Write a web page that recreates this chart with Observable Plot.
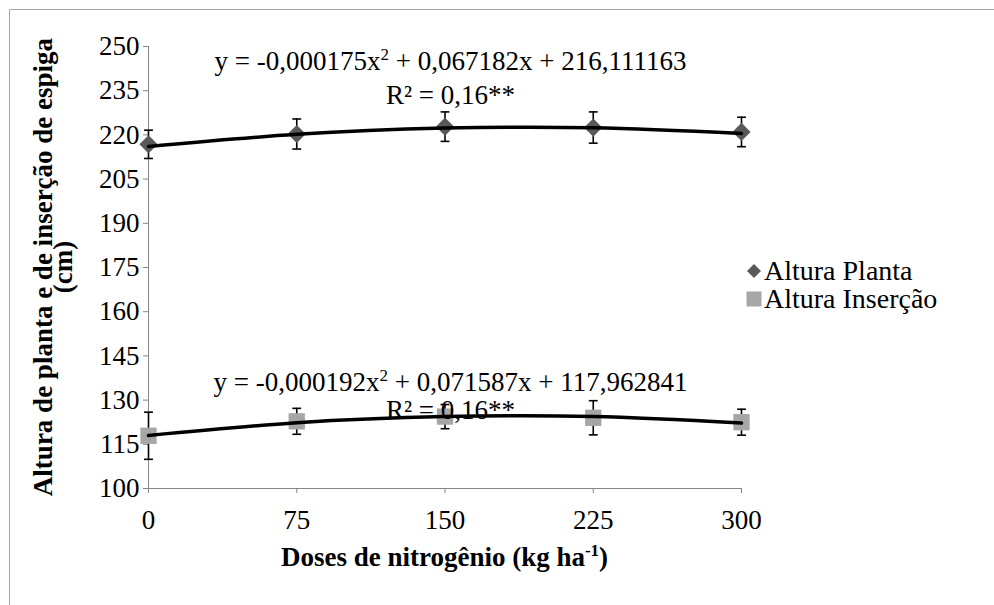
<!DOCTYPE html>
<html><head><meta charset="utf-8">
<script src="https://cdn.jsdelivr.net/npm/d3@7"></script>
<script src="https://cdn.jsdelivr.net/npm/@observablehq/plot@0.6"></script>
<style>
body{margin:0;background:#fff}
#chart{position:relative;width:994px;height:605px}
</style>
</head><body><div id="chart"></div>
<script>
// ---- data ----
const doses = [0, 75, 150, 225, 300];
const seriesNames = ["Altura Planta", "Altura Inserção"];
const plantaMean = [216.8, 220.3, 222.8, 222.5, 221.0];
const plantaErr = [4.8, 5.1, 5.0, 5.3, 5.0];
const insercaoMean = [117.9, 122.8, 124.4, 124.0, 122.5];
const insercaoErr = [8.0, 4.4, 4.1, 5.8, 4.4];
const plantaFit = [216.1, 220.2, 222.3, 222.4, 220.5];
const insercaoFit = [118.0, 122.3, 124.4, 124.4, 122.2];
const yTicks = [100, 115, 130, 145, 160, 175, 190, 205, 220, 235, 250];
const xTicks = [0, 75, 150, 225, 300];
const eqPlanta = ["y = -0,000175x", "2", " + 0,067182x + 216,111163"];
const r2Planta = "R² = 0,16**";
const eqInsercao = ["y = -0,000192x", "2", " + 0,071587x + 117,962841"];
const r2Insercao = "R² = 0,16**";
const xTitle = ["Doses de nitrogênio (kg ha", "-1", ")"];
const yTitle = ["Altura de planta e de inserção de espiga", "(cm)"];

const planta = doses.map((d, i) => ({dose: d, mean: plantaMean[i], err: plantaErr[i], fit: plantaFit[i]}));
const insercao = doses.map((d, i) => ({dose: d, mean: insercaoMean[i], err: insercaoErr[i], fit: insercaoFit[i]}));
const all = planta.concat(insercao);

const cap = {draw(ctx, size) { const w = Math.sqrt(size); ctx.moveTo(-w / 2, 0); ctx.lineTo(w / 2, 0); }};
const axisGray = "#868686";
const cPlanta = "#595959", cIns = "#a6a6a6";
const font = "Liberation Serif, Times New Roman, serif";
const FS = 27;

const plot = Plot.plot({
  width: 994, height: 605,
  marginLeft: 148, marginRight: 253, marginTop: 46, marginBottom: 117,
  x: {domain: [0, 300]},
  y: {domain: [100, 250]},
  style: `font-family: ${font}; font-size: ${FS}px; color: #000; background: transparent; overflow: visible;`,
  marks: [
    Plot.axisY(yTicks, {tickSize: 5, tickPadding: 4, stroke: axisGray, fill: "#000", label: null, fontSize: FS, fontFamily: font}),
    Plot.axisX(xTicks, {tickSize: 5, tickPadding: 16, stroke: axisGray, fill: "#000", label: null, fontSize: FS, fontFamily: font}),
    Plot.ruleX([0], {stroke: axisGray, strokeWidth: 1}),
    Plot.ruleY([100], {stroke: axisGray, strokeWidth: 1}),
    Plot.ruleX(all, {x: "dose", y1: d => d.mean - d.err, y2: d => d.mean + d.err, stroke: "#000", strokeWidth: 1.6}),
    Plot.dot(all, {x: "dose", y: d => d.mean + d.err, symbol: cap, r: 5, stroke: "#000", strokeWidth: 1.6}),
    Plot.dot(all, {x: "dose", y: d => d.mean - d.err, symbol: cap, r: 5, stroke: "#000", strokeWidth: 1.6}),
    Plot.dot(planta, {x: "dose", y: "mean", symbol: "diamond2", r: 8.2, fill: cPlanta, stroke: null}),
    Plot.dot(insercao, {x: "dose", y: "mean", symbol: "square", r: 9.2, fill: cIns, stroke: null}),
    Plot.line(planta, {x: "dose", y: "fit", curve: "natural", stroke: "#000", strokeWidth: 3.5}),
    Plot.line(insercao, {x: "dose", y: "fit", curve: "natural", stroke: "#000", strokeWidth: 3.5})
  ]
});
document.getElementById("chart").appendChild(plot);

const svg = d3.select(plot);
const xs = plot.scale("x"), ys = plot.scale("y");
const X = v => xs.apply(v), Y = v => ys.apply(v);

// outer border (top and left visible)
svg.insert("path", ":first-child").attr("d", "M9.5,605V9.5H994").attr("fill", "none").attr("stroke", "#a6a6a6").attr("stroke-width", 1);

function txt(x, y, anchor, weight, size) {
  return svg.append("text").attr("x", x).attr("y", y).attr("text-anchor", anchor)
    .attr("font-family", font).attr("font-size", size || FS).attr("font-weight", weight || "normal").attr("fill", "#000");
}
function sup(t, parts) {
  t.append("tspan").text(parts[0]);
  t.append("tspan").attr("dy", -10).attr("font-size", 17).text(parts[1]);
  t.append("tspan").attr("dy", 10).text(parts[2]);
}
sup(txt(X(153), 70, "middle"), eqPlanta);
txt(X(153), 104, "middle").text(r2Planta);
sup(txt(X(153), 391, "middle"), eqInsercao);
txt(X(153), 419, "middle").text(r2Insercao);

// x title
sup(txt(X(150), 566, "middle", "bold"), xTitle);

// y title (rotated, two lines)
const cy = (Y(100) + Y(250)) / 2;
yTitle.forEach((s, i) => {
  txt(0, 0, "middle", "bold").attr("transform", `translate(${52 + i * 20},${cy}) rotate(-90)`).text(s);
});

// legend
const lx = X(300) + 13;
const legendItems = [
  {name: seriesNames[0], sym: d3.symbolDiamond2, size: 7 * 7 / (0.62625 * 0.62625), color: cPlanta, y: 271},
  {name: seriesNames[1], sym: d3.symbolSquare, size: 15 * 15, color: cIns, y: 299}
];
legendItems.forEach(it => {
  svg.append("path").attr("transform", `translate(${lx},${it.y})`).attr("d", d3.symbol(it.sym, it.size)()).attr("fill", it.color);
  txt(lx + 10, it.y + 9, "start", "normal", 28).text(it.name);
});
</script>
</body></html>
